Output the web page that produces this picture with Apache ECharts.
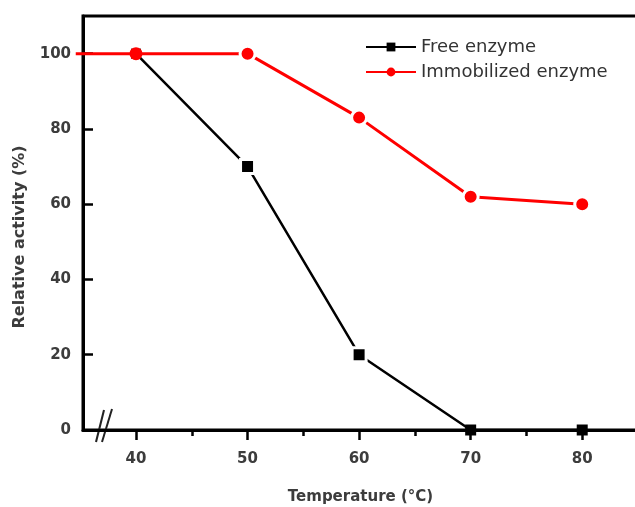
<!DOCTYPE html>
<html>
<head>
<meta charset="utf-8">
<script src="https://cdn.jsdelivr.net/npm/echarts@6/dist/echarts.min.js"></script>
<style>
  html, body { margin: 0; padding: 0; background: #fff; }
  #chart { width: 635px; height: 507px; }
</style>
</head>
<body>
<div id="chart"></div>
<script>
// Thermal stability of free vs. immobilized enzyme
const temperatures = [40, 50, 60, 70, 80];
const freeEnzyme = [100, 70, 20, 0, 0];
const immobilizedEnzyme = [100, 100, 83, 62, 60];
// the immobilized trace continues a little to the left of the axis break
const immobilizedLeadIn = [34.6, 100];

const xMajorTicks = [40, 50, 60, 70, 80];
const xMinorTicks = [45, 55, 65, 75];
const yTicks = [0, 20, 40, 60, 80, 100];

// layout of the framed plot area
const PLOT_LEFT = 83, PLOT_TOP = 16, PLOT_RIGHT = -3, PLOT_BOTTOM = 77, CHART_W = 635;
const X_MIN = 35.25, X_MAX = 85, Y_MIN = 0, Y_MAX = 110;
// the data layer uses the same scale but starts a little further left,
// so the lead-in of the red trace is not clipped at the y axis
const DATA_X_MIN = 34;
const pxPerUnit = (CHART_W - PLOT_RIGHT - PLOT_LEFT) / (X_MAX - X_MIN);
const DATA_LEFT = PLOT_LEFT - (X_MIN - DATA_X_MIN) * pxPerUnit;

const labelColor = '#3c3c3c';
const labelFont = { fontFamily: 'DejaVu Sans', fontWeight: 'bold', fontSize: 15, color: labelColor };

// white halo around a marker leaves a small gap in the line, except where it
// would cut into the axis or the other series' marker
function marker(x, y, halo, size) {
  return halo
    ? { value: [x, y], itemStyle: { borderWidth: 3 } }
    : { value: [x, y], symbolSize: size, itemStyle: { borderWidth: 0 } };
}

const freeData = temperatures.map((t, i) =>
  marker(t, freeEnzyme[i], freeEnzyme[i] !== 0 && i !== 0, i === 0 ? 10 : 11));
const immobData = [{ value: immobilizedLeadIn, symbol: 'none' }].concat(
  temperatures.map((t, i) => marker(t, immobilizedEnzyme[i], i !== 0, 13))
);

const chart = echarts.init(document.getElementById('chart'), null, { renderer: 'canvas' });

chart.setOption({
  animation: false,
  backgroundColor: '#fff',
  grid: [
    {
      left: PLOT_LEFT, top: PLOT_TOP, right: PLOT_RIGHT, bottom: PLOT_BOTTOM,
      containLabel: false, outerBoundsMode: 'none',
      show: true, borderColor: '#000', borderWidth: 3, backgroundColor: 'transparent'
    },
    {
      left: DATA_LEFT, top: PLOT_TOP, right: PLOT_RIGHT, bottom: PLOT_BOTTOM,
      containLabel: false, outerBoundsMode: 'none', show: false
    }
  ],
  legend: {
    orient: 'vertical',
    left: 365,
    top: 38,
    padding: 0,
    itemWidth: 50,
    itemHeight: 11,
    itemGap: 7,
    textStyle: { fontFamily: 'DejaVu Sans', fontSize: 18, color: '#333' },
    itemStyle: { borderWidth: 0 },
    data: ['Free enzyme', 'Immobilized enzyme']
  },
  xAxis: [
    {
      gridIndex: 0,
      type: 'value',
      min: X_MIN,
      max: X_MAX,
      axisLine: { show: true, onZero: false, lineStyle: { color: '#000', width: 3 } },
      axisTick: { show: true, customValues: xMajorTicks, length: 10, lineStyle: { color: '#000', width: 2.5 } },
      axisLabel: Object.assign({ customValues: xMajorTicks, margin: 22 }, labelFont),
      splitLine: { show: false },
      name: 'Temperature (°C)',
      nameLocation: 'middle',
      nameGap: 60,
      nameTextStyle: labelFont
    },
    {
      gridIndex: 0,
      type: 'value',
      min: X_MIN,
      max: X_MAX,
      position: 'bottom',
      axisLine: { show: false },
      axisTick: { show: true, customValues: xMinorTicks, length: 6, lineStyle: { color: '#000', width: 2.5 } },
      axisLabel: { show: false },
      splitLine: { show: false }
    },
    {
      gridIndex: 1,
      type: 'value',
      min: DATA_X_MIN,
      max: X_MAX,
      show: false
    }
  ],
  yAxis: [
    {
      gridIndex: 0,
      type: 'value',
      min: Y_MIN,
      max: Y_MAX,
      axisLine: { show: true, lineStyle: { color: '#000', width: 3 } },
      axisTick: { show: true, inside: true, customValues: yTicks, length: 10, lineStyle: { color: '#000', width: 2.5 } },
      axisLabel: Object.assign({ customValues: yTicks, margin: 12 }, labelFont),
      splitLine: { show: false }
    },
    {
      gridIndex: 1,
      type: 'value',
      min: Y_MIN,
      max: Y_MAX,
      show: false
    }
  ],
  graphic: [
    {
      type: 'text',
      x: 20,
      y: 237,
      rotation: Math.PI / 2,
      style: {
        text: 'Relative activity (%)',
        font: 'bold 16px "DejaVu Sans"',
        fill: labelColor,
        align: 'center',
        verticalAlign: 'middle'
      }
    },
    // axis break mark on the temperature axis
    { type: 'line', shape: { x1: 96, y1: 442, x2: 104, y2: 410 }, style: { stroke: '#222', lineWidth: 2 } },
    { type: 'line', shape: { x1: 102, y1: 442, x2: 112, y2: 409 }, style: { stroke: '#222', lineWidth: 2 } }
  ],
  series: [
    {
      name: 'Free enzyme',
      type: 'line',
      xAxisIndex: 2,
      yAxisIndex: 1,
      data: freeData,
      symbol: 'rect',
      symbolSize: 14,
      clip: false,
      lineStyle: { color: '#000', width: 2.5 },
      itemStyle: { color: '#000', borderColor: '#fff', borderWidth: 3 },
      z: 3
    },
    {
      name: 'Immobilized enzyme',
      type: 'line',
      xAxisIndex: 2,
      yAxisIndex: 1,
      data: immobData,
      symbol: 'circle',
      symbolSize: 15,
      clip: false,
      lineStyle: { color: '#ff0000', width: 3 },
      itemStyle: { color: '#ff0000', borderColor: '#fff', borderWidth: 3 },
      z: 4
    }
  ]
});
</script>
</body>
</html>
